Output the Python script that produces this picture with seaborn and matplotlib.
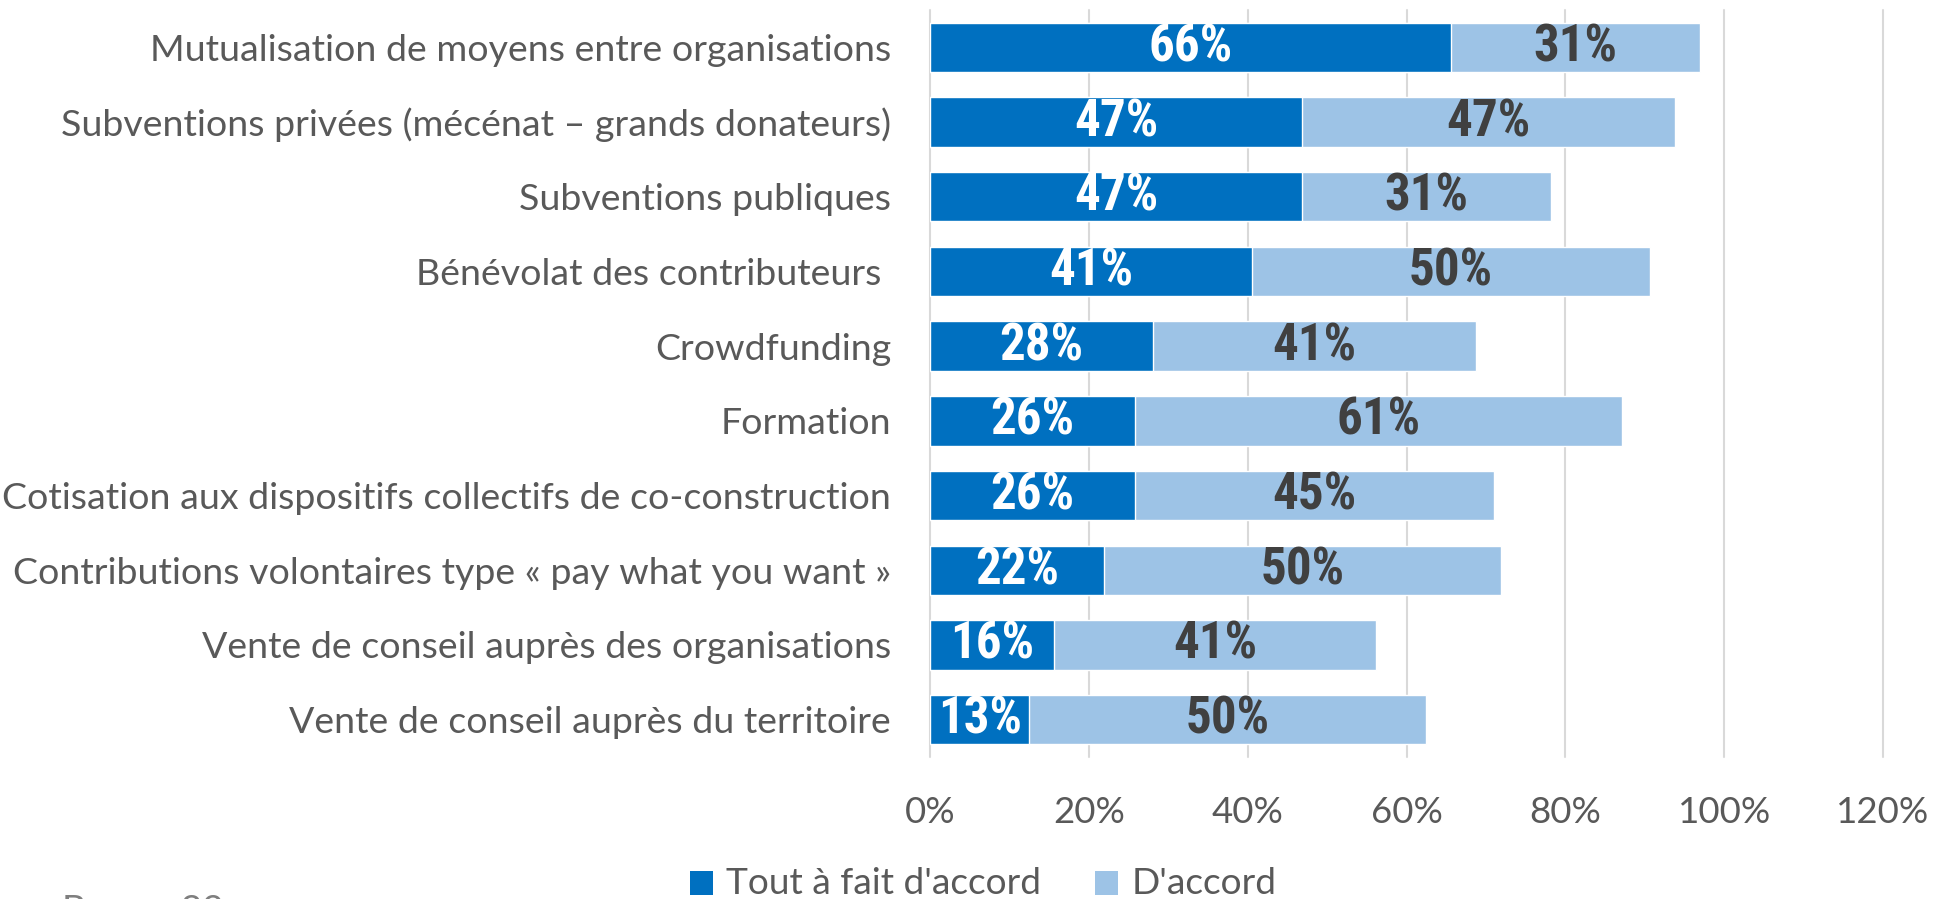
import matplotlib
matplotlib.use("Agg")
import matplotlib.pyplot as plt
from matplotlib import font_manager as fm
from matplotlib.patches import Patch
import numpy as np
import pandas as pd
import seaborn as sns

categories = [
    "Mutualisation de moyens entre organisations",
    "Subventions privées (mécénat – grands donateurs)",
    "Subventions publiques",
    "Bénévolat des contributeurs ",
    "Crowdfunding",
    "Formation",
    "Cotisation aux dispositifs collectifs de co-construction",
    "Contributions volontaires type « pay what you want »",
    "Vente de conseil auprès des organisations",
    "Vente de conseil auprès du territoire",
]
tout_a_fait = [65.6, 46.9, 46.9, 40.6, 28.1, 25.8, 25.8, 21.9, 15.6, 12.5]
d_accord = [31.3, 46.9, 31.3, 50.0, 40.6, 61.3, 45.2, 50.0, 40.6, 50.0]
series_names = ["Tout à fait d'accord", "D'accord"]
x_ticks = [0, 20, 40, 60, 80, 100, 120]
base_note = "Base = 32"

DARK = "#0070C0"
LIGHT = "#9DC3E6"
TXT = "#595959"

sns.set_theme(style="white")
avail = {f.name for f in fm.fontManager.ttflist}
REG = "Lato" if "Lato" in avail else "DejaVu Sans"
BOLD = next((n for n in ["Liberation Sans Narrow", "DejaVu Sans Condensed", "Roboto Condensed", "Lato"] if n in avail), REG)
plt.rcParams["font.family"] = [REG, "DejaVu Sans"]

df = pd.DataFrame({"cat": categories, "tout": tout_a_fait, "accord": d_accord})
df["total"] = df["tout"] + df["accord"]

W, H = 1946, 899
fig = plt.figure(figsize=(W / 100, H / 100), dpi=100)
ax = fig.add_axes([930 / W, 1 - 757 / H, (1883 - 930) / W, (757 - 10) / H])

sns.barplot(data=df, x="total", y="cat", color=LIGHT, saturation=1, width=0.66,
            orient="h", ax=ax, zorder=2)
sns.barplot(data=df, x="tout", y="cat", color=DARK, saturation=1, width=0.66,
            orient="h", ax=ax, zorder=3)

ax.set_xlim(0, 120)
ax.set_ylim(9.5, -0.5)
ax.set_xticks(x_ticks)
ax.set_xticklabels([f"{t}%" for t in x_ticks])
ax.set_xlabel("")
ax.set_ylabel("")
for s in ax.spines.values():
    s.set_visible(False)
ax.grid(False)
for t in x_ticks:
    ax.axvline(t, color="#D9D9D9", lw=1.5, zorder=1, clip_on=False)
ax.tick_params(axis="both", length=0, colors=TXT, labelsize=24)
ax.tick_params(axis="y", pad=28)
ax.tick_params(axis="x", pad=28)

dark_texts, light_texts = [], []
for i, (a, b) in enumerate(zip(tout_a_fait, d_accord)):
    dark_texts.append(ax.text(a / 2, i, f"{int(a + 0.5)}%", ha="center", va="center",
                              color="white", fontweight="bold", family=[BOLD, "DejaVu Sans"],
                              fontsize=30, zorder=5))
    light_texts.append(ax.text(a + b / 2, i, f"{int(b + 0.5)}%", ha="center", va="center",
                               color="#404040", fontweight="bold", family=[BOLD, "DejaVu Sans"],
                               fontsize=30, zorder=5))

handles = [Patch(facecolor=DARK, edgecolor="none"), Patch(facecolor=LIGHT, edgecolor="none")]
leg = fig.legend(handles, series_names, loc="center", bbox_to_anchor=(983 / W, 1 - 884 / H),
                 ncol=2, frameon=False, fontsize=24, handlelength=0.7, handleheight=0.7,
                 handletextpad=0.4, columnspacing=1.6, labelcolor=TXT)

note = fig.text(62 / W, 1 - 894 / H, base_note, ha="left", va="top", color="#7F7F7F", fontsize=24)

fig.canvas.draw()
r = fig.canvas.get_renderer()

# fit font sizes to measured widths
yl = ax.get_yticklabels()[0]
ysize = yl.get_fontsize() * 740 / yl.get_window_extent(r).width
ax.tick_params(axis="y", labelsize=ysize)
xl = [t for t in ax.get_xticklabels() if t.get_text() == "100%"][0]
xsize = xl.get_fontsize() * 93 / xl.get_window_extent(r).width
ax.tick_params(axis="x", labelsize=xsize)

bs = 30 * 84 / dark_texts[0].get_window_extent(r).width
for t in dark_texts + light_texts:
    t.set_fontsize(bs)

ls = 24 * 315 / leg.get_texts()[0].get_window_extent(r).width
for t in leg.get_texts():
    t.set_fontsize(ls)
note.set_fontsize(ls)

fig.savefig("out.png", dpi=100)
